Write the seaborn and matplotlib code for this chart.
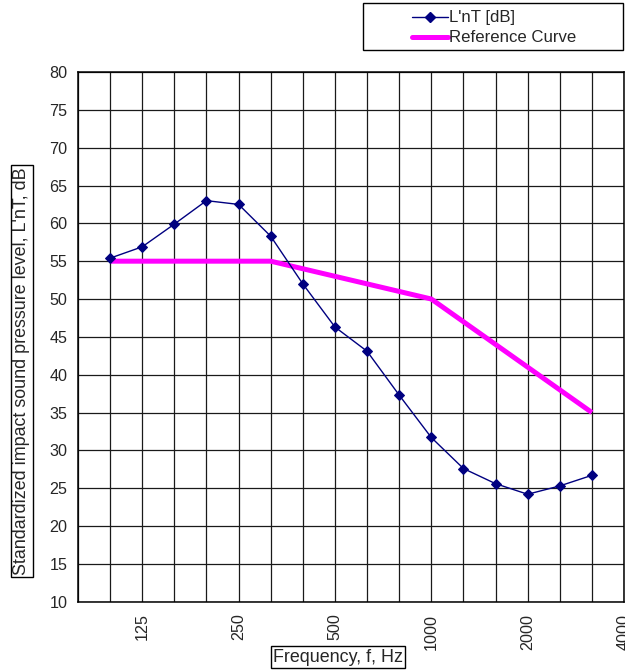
import numpy as np
import pandas as pd
import matplotlib
matplotlib.use("Agg")
import matplotlib.pyplot as plt
import seaborn as sns
from matplotlib.patches import Rectangle
from matplotlib.lines import Line2D

# One-third octave band centre frequencies spanned by the x axis (Hz)
bands = [80, 100, 125, 160, 200, 250, 315, 400, 500, 630, 800, 1000,
         1250, 1600, 2000, 2500, 3150, 4000]
# Bands that carry measurements
measured_bands = [100, 125, 160, 200, 250, 315, 400, 500, 630, 800, 1000,
                  1250, 1600, 2000, 2500, 3150]
# Standardized impact sound pressure level L'nT (dB)
lnt = [55.4, 56.9, 59.9, 63.0, 62.5, 58.3, 52.0, 46.3, 43.1, 37.3, 31.7,
       27.6, 25.6, 24.2, 25.3, 26.7]
# Shifted reference curve (dB)
reference = [55, 55, 55, 55, 55, 55, 54, 53, 52, 51, 50, 47, 44, 41, 38, 35]
# Labelled frequencies on the x axis
tick_labels = [125, 250, 500, 1000, 2000, 4000]
y_ticks = list(range(10, 81, 5))

FS_TICK = 11.6
FS_TITLE = 12.9
FS_LEG = 12.1

sns.set_style("white")
plt.rcParams["font.family"] = ["Liberation Sans", "DejaVu Sans"]
plt.rcParams["font.size"] = FS_TICK

pos = [bands.index(f) for f in measured_bands]
df = pd.DataFrame({"pos": pos, "lnt": lnt, "ref": reference})

fig = plt.figure(figsize=(6.25, 6.7), dpi=100)
ax = fig.add_axes([78 / 625, 1 - 601.7 / 670, 546 / 625, 529.7 / 670])

sns.lineplot(data=df, x="pos", y="ref", ax=ax, color="#FF00FF", lw=3.6,
             solid_capstyle="butt", zorder=3)
sns.lineplot(data=df, x="pos", y="lnt", ax=ax, color="#000080", lw=1.0,
             marker="D", markersize=5.5, markeredgecolor="#000080", zorder=4)

ax.set_xlim(0, len(bands) - 1)
ax.set_ylim(10, 80)
ax.set_xticks(range(len(bands)))
ax.set_xticklabels([str(f) if f in tick_labels else "" for f in bands],
                   rotation=90)
ax.set_yticks(y_ticks)
ax.set_yticklabels([str(v) for v in y_ticks])
ax.grid(True, color="#1a1a1a", lw=0.9)
ax.set_axisbelow(True)
for s in ax.spines.values():
    s.set_color("black")
    s.set_linewidth(1.1)
ax.tick_params(axis="both", direction="out", length=4.5, width=0.9,
               color="black", pad=3, labelsize=FS_TICK)
ax.tick_params(axis="x", pad=4)
ax.set_xlabel("")
ax.set_ylabel("")

fig.text(22 / 625, 1 - 371 / 670,
         "Standardized impact sound pressure level, L'nT, dB",
         rotation=90, ha="center", va="center", fontsize=FS_TITLE,
         bbox=dict(boxstyle="square,pad=0.12", fc="white", ec="black", lw=1))
fig.text(338 / 625, 1 - 657 / 670, "Frequency, f, Hz",
         ha="center", va="center", fontsize=FS_TITLE,
         bbox=dict(boxstyle="square,pad=0.12", fc="white", ec="black", lw=1))

handles = [Line2D([], [], color="#000080", lw=1.0, marker="D", markersize=5),
           Line2D([], [], color="#FF00FF", lw=3.6)]
fig.legend(handles, ["L'nT [dB]", "Reference Curve"], loc="upper left",
           bbox_to_anchor=(404 / 625, 1 - 2 / 670), frameon=False,
           borderpad=0, handlelength=2.1, handletextpad=0.1,
           labelspacing=0.3, fontsize=FS_LEG)
fig.add_artist(Rectangle((363 / 625, 1 - 50 / 670), 260 / 625, 47 / 670,
                         transform=fig.transFigure, fill=False,
                         ec="black", lw=1))

fig.savefig("out.png", dpi=100)
